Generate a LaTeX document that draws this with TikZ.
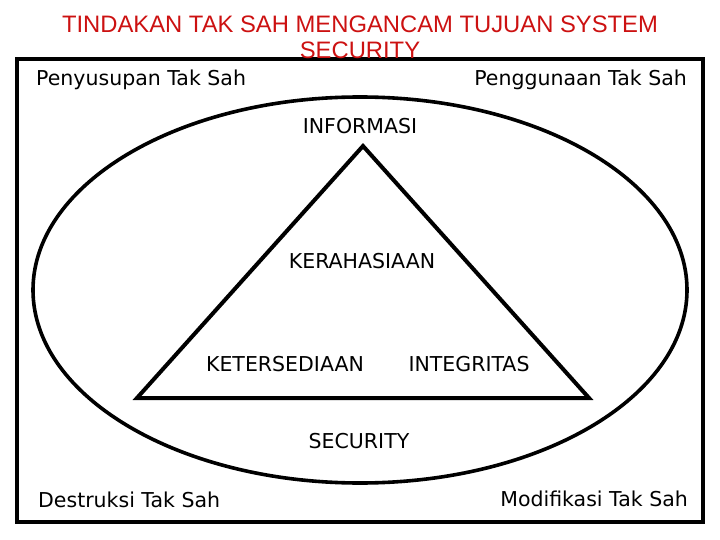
\documentclass[tikz,border=0pt]{standalone}
\usepackage{fontspec}
\setmainfont{DejaVu Sans}
\newfontfamily\titlefont{Liberation Sans}
\usepackage{xcolor}
\usetikzlibrary{positioning,calc}
\definecolor{titlered}{HTML}{CC1111}

\begin{document}
\begin{tikzpicture}[x=1pt, y=-1pt,
    frame/.style={draw=black, line width=4pt},
    lbl/.style={inner sep=0pt, font=\fontsize{20.5}{24}\selectfont},
    head/.style={inner sep=0pt, align=center, text=titlered, font=\titlefont\fontsize{23.8}{26}\selectfont},
]
\useasboundingbox (0,0) rectangle (720,540);

% Outer frame and circle of security
\draw[frame] (17,59) rectangle (703,522);
\draw[line width=3.6pt] (360,290) ellipse [x radius=327, y radius=193];

% Triangle corners
\coordinate (top) at (363,146);
\coordinate (bl) at (137,398);
\coordinate (br) at (589,398);
\draw[line width=4pt, line join=miter] (top) -- (br) -- (bl) -- cycle;

% Title (over the frame)
\node[head, anchor=north] (title) at (360,16) {TINDAKAN TAK SAH MENGANCAM TUJUAN SYSTEM\\SECURITY};

% Corner threats
\node[lbl, anchor=base west] (penyusupan) at (36,86) {Penyusupan Tak Sah};
\node[lbl, anchor=base east] (penggunaan) at (687,86) {Penggunaan Tak Sah};
\node[lbl, anchor=base west] (destruksi) at (38,507) {Destruksi Tak Sah};
\node[lbl, anchor=base east] (modifikasi) at (688,506) {Modifikasi Tak Sah};

% Aspects
\node[lbl, anchor=base] (informasi) at (360,134) {INFORMASI};
\node[lbl, anchor=base] (kerahasiaan) at (362,268) {KERAHASIAAN};
\node[lbl, anchor=base] (ketersediaan) at (285,371) {KETERSEDIAAN};
\node[lbl, anchor=base] (integritas) at (469,371) {INTEGRITAS};
\node[lbl, anchor=base] (security) at (359,448) {SECURITY};
\end{tikzpicture}
\end{document}
